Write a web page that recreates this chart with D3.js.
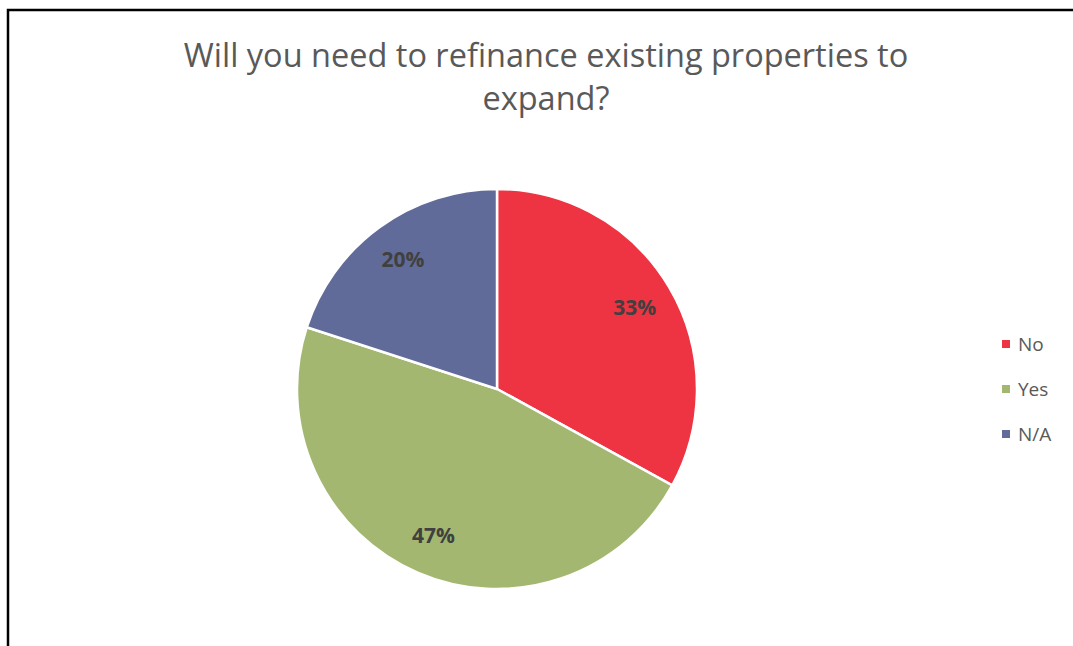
<!DOCTYPE html>
<html>
<head>
<meta charset="utf-8">
<script src="https://cdn.jsdelivr.net/npm/d3@7"></script>
<style>
  html, body { margin: 0; padding: 0; background: #fff; }
  svg { display: block; }
</style>
</head>
<body>
<svg id="chart" width="1073" height="646"></svg>
<script>
// Survey answers
const categories = ["No", "Yes", "N/A"];
const shares = [33, 47, 20];
const colors = ["#EE3342", "#A3B771", "#616B99"];
const titleLines = ["Will you need to refinance existing properties to", "expand?"];

const width = 1073, height = 646;
const svg = d3.select("#chart");

// Chart frame (extends past the right and bottom edges)
svg.append("rect")
  .attr("x", 8).attr("y", 10)
  .attr("width", 1200).attr("height", 800)
  .attr("fill", "#fff")
  .attr("stroke", "#000")
  .attr("stroke-width", 2.5);

// Title
const title = svg.append("text")
  .attr("text-anchor", "middle")
  .attr("fill", "#595959")
  .attr("font-family", "'Open Sans', 'Noto Sans', sans-serif")
  .attr("font-size", 32.5);
title.selectAll("tspan")
  .data(titleLines)
  .join("tspan")
  .attr("x", 546)
  .attr("y", (d, i) => 67 + i * 43)
  .text(d => d);

// Pie
const cx = 497, cy = 389, R = 200;
const data = categories.map((c, i) => ({ name: c, value: shares[i], color: colors[i] }));
const pie = d3.pie().value(d => d.value).sort(null);
const arc = d3.arc().innerRadius(0).outerRadius(R);
const labelArc = d3.arc().innerRadius(160).outerRadius(160);

const g = svg.append("g").attr("transform", `translate(${cx},${cy})`);
const arcs = pie(data);

g.selectAll("path")
  .data(arcs)
  .join("path")
  .attr("d", arc)
  .attr("fill", d => d.data.color)
  .attr("stroke", "#fff")
  .attr("stroke-width", 2.5)
  .attr("stroke-linejoin", "round");

g.selectAll("text.lbl")
  .data(arcs)
  .join("text")
  .attr("class", "lbl")
  .attr("transform", d => `translate(${labelArc.centroid(d)})`)
  .attr("text-anchor", "middle")
  .attr("dy", "0.35em")
  .attr("fill", "#404040")
  .attr("font-family", "'Open Sans', 'Noto Sans', sans-serif")
  .attr("font-weight", "bold")
  .attr("font-size", 21)
  .text(d => d.data.value + "%");

// Legend
const legend = svg.append("g").attr("transform", "translate(1002,344)");
const items = legend.selectAll("g")
  .data(data)
  .join("g")
  .attr("transform", (d, i) => `translate(0,${i * 45})`);
items.append("rect")
  .attr("x", 0).attr("y", -4)
  .attr("width", 8).attr("height", 8)
  .attr("fill", d => d.color);
items.append("text")
  .attr("x", 16)
  .attr("dy", "0.35em")
  .attr("fill", "#595959")
  .attr("font-family", "'Open Sans', 'Noto Sans', sans-serif")
  .attr("font-size", 19)
  .text(d => d.name);
</script>
</body>
</html>
